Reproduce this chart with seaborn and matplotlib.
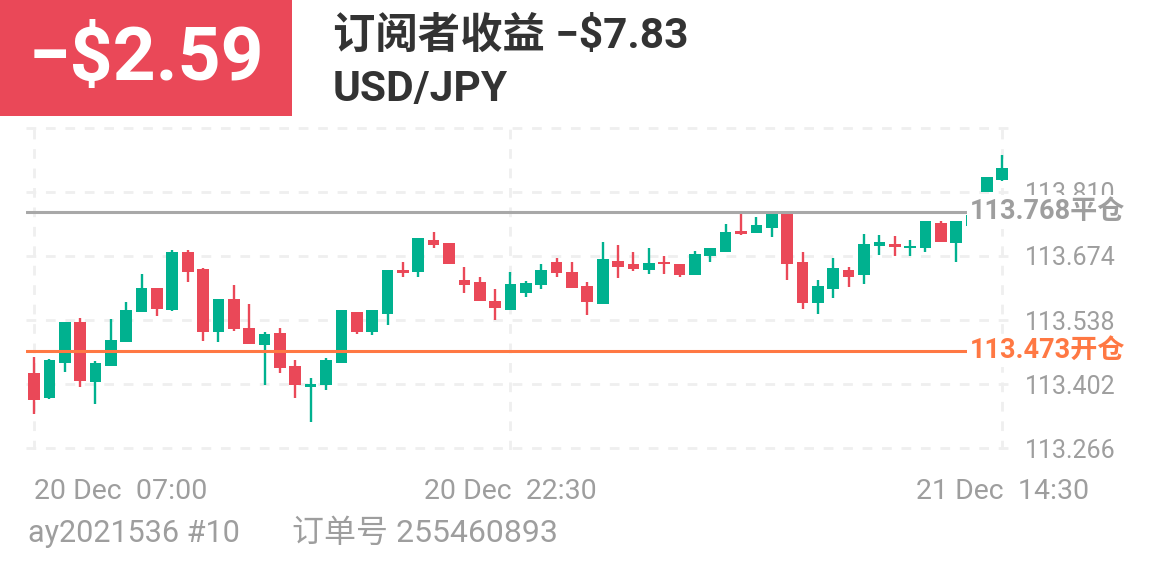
import numpy as np
import pandas as pd
import matplotlib
matplotlib.use("Agg")
from matplotlib import pyplot as plt
from matplotlib.patches import Rectangle
import seaborn as sns

sns.set_style("white")
plt.rcParams['font.family'] = ['Roboto', 'Noto Sans CJK SC', 'DejaVu Sans']
plt.rcParams['lines.scale_dashes'] = False

# 30 min candles, 20 Dec 07:00 -> 21 Dec 14:30
opens = [113.426, 113.372, 113.446, 113.533, 113.406, 113.440, 113.491, 113.555, 113.605, 113.559,
         113.682, 113.646, 113.512, 113.582, 113.522, 113.484, 113.510, 113.440, 113.396, 113.400,
         113.447, 113.556, 113.513, 113.550, 113.644, 113.639, 113.708, 113.702, 113.624, 113.618,
         113.578, 113.560, 113.595, 113.612, 113.661, 113.640, 113.610, 113.573, 113.664, 113.658,
         113.645, 113.661, 113.657, 113.633, 113.673, 113.683, 113.727, 113.722, 113.734, 113.763,
         113.661, 113.574, 113.603, 113.645, 113.634, 113.696, 113.700, 113.690, 113.692, 113.745,
         113.701, 113.738, 113.809, 113.836]
highs = [113.460, 113.455, 113.533, 113.543, 113.450, 113.540, 113.576, 113.636, 113.606, 113.687,
         113.686, 113.649, 113.582, 113.612, 113.573, 113.513, 113.520, 113.452, 113.415, 113.457,
         113.559, 113.556, 113.559, 113.644, 113.661, 113.712, 113.726, 113.702, 113.651, 113.629,
         113.604, 113.641, 113.621, 113.658, 113.670, 113.661, 113.619, 113.703, 113.697, 113.682,
         113.692, 113.673, 113.657, 113.685, 113.690, 113.741, 113.766, 113.756, 113.768, 113.768,
         113.682, 113.623, 113.670, 113.651, 113.720, 113.718, 113.716, 113.707, 113.748, 113.748,
         113.749, 113.768, 113.841, 113.889]
lows = [113.338, 113.370, 113.427, 113.396, 113.360, 113.440, 113.491, 113.554, 113.546, 113.557,
        113.619, 113.494, 113.491, 113.515, 113.486, 113.399, 113.425, 113.372, 113.322, 113.389,
        113.447, 113.508, 113.507, 113.527, 113.629, 113.629, 113.692, 113.656, 113.595, 113.579,
        113.539, 113.560, 113.586, 113.603, 113.630, 113.606, 113.549, 113.573, 113.627, 113.643,
        113.636, 113.636, 113.629, 113.633, 113.662, 113.683, 113.719, 113.722, 113.714, 113.622,
        113.562, 113.550, 113.584, 113.608, 113.615, 113.676, 113.675, 113.674, 113.683, 113.703,
        113.661, 113.735, 113.809, 113.834]
closes = [113.369, 113.454, 113.533, 113.408, 113.446, 113.495, 113.559, 113.605, 113.561, 113.683,
          113.639, 113.513, 113.582, 113.518, 113.486, 113.509, 113.435, 113.399, 113.403, 113.454,
          113.559, 113.512, 113.559, 113.644, 113.638, 113.712, 113.697, 113.656, 113.612, 113.579,
          113.564, 113.614, 113.616, 113.645, 113.637, 113.607, 113.577, 113.668, 113.651, 113.647,
          113.659, 113.656, 113.634, 113.678, 113.690, 113.726, 113.720, 113.739, 113.764, 113.658,
          113.574, 113.610, 113.649, 113.630, 113.700, 113.704, 113.693, 113.695, 113.748, 113.703,
          113.749, 113.762, 113.841, 113.862]

xtick_pos = [0, 31, 63]
xtick_labels = ['20 Dec  07:00', '20 Dec  22:30', '21 Dec  14:30']
ytick_vals = [113.266, 113.402, 113.538, 113.674, 113.810, 113.946]
ytick_labels = ['113.266', '113.402', '113.538', '113.674', '113.810', '']
open_price = 113.473
close_price = 113.768
pnl_text = '−$2.59'
title_text = '订阅者收益 −$7.83'
symbol = 'USD/JPY'
account = 'ay2021536 #10'
order_text = '订单号 255460893'

GREEN = '#00B18F'
RED = '#EA4858'
GREY = '#9E9E9E'

df = pd.DataFrame({'open': opens, 'high': highs, 'low': lows, 'close': closes})
df['idx'] = np.arange(len(df))
colors = np.where(df['close'] >= df['open'], GREEN, RED)

W, H = 1161, 580
fig = plt.figure(figsize=(W / 100, H / 100), dpi=100)
ax = fig.add_axes([26 / W, (H - 449.9) / H, 984 / W, 323.8 / H])

# candles
ax.vlines(df['idx'], df['low'], df['high'], colors=colors, linewidth=1.7, zorder=3)
body_bot = df[['open', 'close']].min(axis=1)
body_h = (df['close'] - df['open']).abs().clip(lower=0.005)
ax.bar(df['idx'], body_h, bottom=body_bot, width=0.76, color=colors, linewidth=0, zorder=4)

# open / close lines
ax.axhline(close_price, color='#A8A8A8', linewidth=2.2, zorder=5)
ax.axhline(open_price, color='#FF7843', linewidth=2.2, zorder=5)
lab_x = (970 - 34) / 15.37
ax.text(lab_x, close_price, f'{close_price:.3f}平仓', color=GREY, fontsize=19.5, fontweight='bold',
        ha='left', va='center', zorder=10,
        bbox=dict(boxstyle='square,pad=0.12', fc='white', ec='none'))
ax.text(lab_x, open_price, f'{open_price:.3f}开仓', color='#FF7843', fontsize=19.5, fontweight='bold',
        ha='left', va='center', zorder=10,
        bbox=dict(boxstyle='square,pad=0.12', fc='white', ec='none'))

ax.set_xlim(-0.52, 63.5)
ax.set_ylim(113.262, 113.950)
ax.set_xticks(xtick_pos)
ax.set_xticklabels(xtick_labels)
ax.set_yticks(ytick_vals)
ax.set_yticklabels(ytick_labels)
ax.yaxis.tick_right()
ax.tick_params(axis='y', length=0, pad=11, labelsize=18, labelcolor=GREY)
ax.tick_params(axis='x', length=0, pad=20, labelsize=20.5, labelcolor=GREY)
ax.get_xticklabels()[0].set_ha('left')
ax.set_axisbelow(True)
ax.grid(True, color='#EFEFEF', linewidth=2, linestyle=(0, (7, 7)))
for s in ax.spines.values():
    s.set_visible(False)

# header
fig.add_artist(Rectangle((0, 1 - 116 / H), 292 / W, 116 / H, transform=fig.transFigure,
                         color=RED, linewidth=0))
fig.text(146 / W, 1 - 60 / H, pnl_text, color='white', fontsize=54, fontweight='bold',
         ha='center', va='center')
fig.text(333 / W, 1 - 36 / H, title_text, color='#333333', fontsize=30.5, fontweight='bold',
         ha='left', va='center')
fig.text(333 / W, 1 - 89 / H, symbol, color='#333333', fontsize=30.5, fontweight='bold',
         ha='left', va='center')

# footer
fig.text(28 / W, 1 - 533 / H, account, color=GREY, fontsize=22, ha='left', va='center')
fig.text(292 / W, 1 - 533 / H, order_text, color=GREY, fontsize=23, ha='left', va='center')

fig.savefig('out.png', dpi=100, facecolor='white')
